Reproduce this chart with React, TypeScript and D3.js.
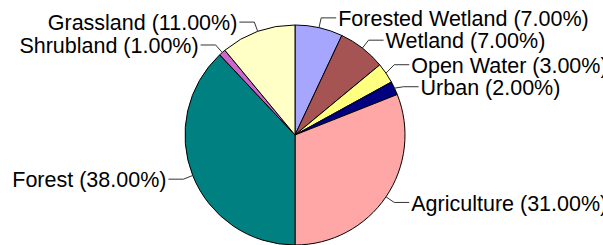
import React from "react";
import * as d3 from "d3";

// land cover shares, clockwise from 12 o'clock
const categories = [
  "Forested Wetland",
  "Wetland",
  "Open Water",
  "Urban",
  "Agriculture",
  "Forest",
  "Shrubland",
  "Grassland",
];
const shares = [7, 7, 3, 2, 31, 38, 1, 11];
const sliceColors = [
  "#a6a6ff",
  "#a65353",
  "#ffff80",
  "#000080",
  "#ffa6a6",
  "#008080",
  "#cc66cc",
  "#ffffc6",
];

const width = 603;
const height = 245;

const App = () => {
  const cx = 295;
  const cy = 135;
  const radius = 110;
  const minGap = 22;

  const rows = categories.map((name, i) => ({
    name,
    value: shares[i],
    color: sliceColors[i],
  }));

  const pie = d3
    .pie<any>()
    .value((d) => d.value)
    .sort(null);
  const arcs = pie(rows);
  const arc = d3.arc<any>().innerRadius(0).outerRadius(radius);

  // point on a circle of radius r at angle a (0 = top, clockwise)
  const polar = (r: number, a: number) => [r * Math.sin(a), -r * Math.cos(a)];

  const labels = arcs.map((a) => {
    const mid = (a.startAngle + a.endAngle) / 2;
    const right = Math.sin(mid) >= 0;
    const [x0, y0] = polar(radius, mid);
    const [x1, y1] = polar(radius + 10, mid);
    return { a, right, x0, y0, x1, y1, ly: y1 };
  });

  // push labels apart on each side so they don't overlap
  [true, false].forEach((side) => {
    const group = labels.filter((l) => l.right === side).sort((p, q) => p.ly - q.ly);
    for (let iter = 0; iter < 20; iter++) {
      for (let k = 1; k < group.length; k++) {
        const gap = group[k].ly - group[k - 1].ly;
        if (gap < minGap) {
          const shift = (minGap - gap) / 2;
          group[k - 1].ly -= shift;
          group[k].ly += shift;
        }
      }
    }
  });

  return (
    <svg
      width={width}
      height={height}
      style={{ position: "absolute", left: 0, top: 0, background: "#fff" }}
      fontFamily="'Liberation Sans', Arial, sans-serif"
    >
      <g transform={`translate(${cx},${cy})`}>
        {arcs.map((a, i) => (
          <path
            key={i}
            d={arc(a) || ""}
            fill={a.data.color}
            stroke="#000"
            strokeWidth={1}
          />
        ))}
        {labels.map((l, i) => {
          const x2 = l.x1 + (l.right ? 15 : -15);
          const tx = l.x1 + (l.right ? 17 : -17);
          return (
            <g key={"l" + i}>
              <polyline
                points={`${l.x0},${l.y0} ${l.x1},${l.ly} ${x2},${l.ly}`}
                fill="none"
                stroke="#333"
                strokeWidth={1}
              />
              <text
                x={tx}
                y={l.ly}
                dy="0.38em"
                fontSize={21.5}
                fill="#000"
                textAnchor={l.right ? "start" : "end"}
              >
                {`${l.a.data.name} (${l.a.data.value.toFixed(2)}%)`}
              </text>
            </g>
          );
        })}
      </g>
    </svg>
  );
};

export default App;
